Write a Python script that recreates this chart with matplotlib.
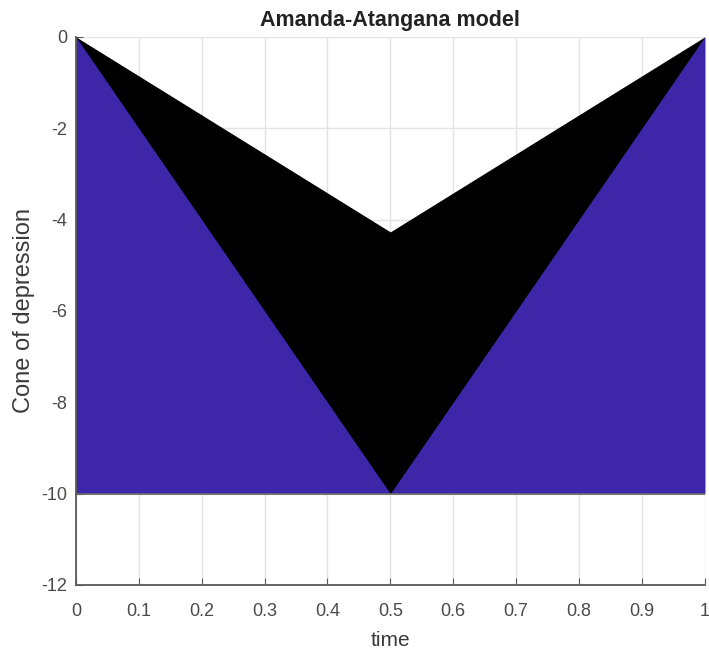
import matplotlib
matplotlib.use("Agg")
import matplotlib.pyplot as plt

plt.rcParams["font.family"] = ["Liberation Sans", "DejaVu Sans"]
plt.rcParams["axes.unicode_minus"] = False

time = [0, 0.5, 1]
lower_cone = [0, -10, 0]
upper_cone = [0, -4.27, 0]
base_level = -10

x_ticks = [0, 0.1, 0.2, 0.3, 0.4, 0.5, 0.6, 0.7, 0.8, 0.9, 1]
x_labels = ["0", "0.1", "0.2", "0.3", "0.4", "0.5", "0.6", "0.7", "0.8", "0.9", "1"]
y_ticks = [-12, -10, -8, -6, -4, -2, 0]

fig = plt.figure(figsize=(7.09, 6.58), dpi=100)
ax = fig.add_axes([0.107, 0.111, 0.887, 0.833])

# black cone first, blue drawn over it so the seam stays dark
ax.fill_between(time, base_level, upper_cone, color="black", linewidth=0, zorder=2)
ax.fill_between(time, base_level, lower_cone, color="#3E26A8", linewidth=0, zorder=2)
ax.plot([time[0], time[-1]], [base_level, base_level], color="#6a6a6a", linewidth=1.2, zorder=2)

ax.set_xlim(0, 1)
ax.set_ylim(-12, 0)
ax.set_xticks(x_ticks)
ax.set_xticklabels(x_labels)
ax.set_yticks(y_ticks)
ax.grid(True, color="#e3e3e3", linewidth=1, zorder=0)
ax.set_axisbelow(True)

for s in ["top", "right"]:
    ax.spines[s].set_visible(False)
for s in ["left", "bottom"]:
    ax.spines[s].set_color("#5a5a5a")
    ax.spines[s].set_linewidth(1.3)
    ax.spines[s].set_zorder(3)

ax.tick_params(direction="in", length=5, colors="#5a5a5a", labelsize=13,
               labelcolor="#4a4a4a")
ax.tick_params(axis="x", pad=13)
ax.tick_params(axis="y", pad=6)

ax.set_title("Amanda-Atangana model", fontweight="bold", fontsize=15.5, color="#222222", pad=8)
ax.set_xlabel("time", fontsize=15, color="#3a3a3a", labelpad=8)
ax.set_ylabel("Cone of depression", fontsize=17, color="#3a3a3a", labelpad=5)

fig.savefig("out.png", dpi=100)
